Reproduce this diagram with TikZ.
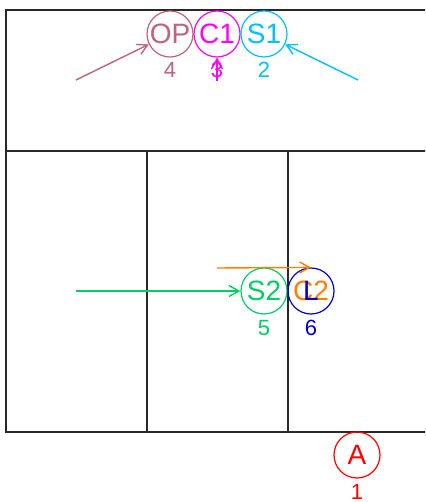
\documentclass[tikz,border=0pt]{standalone}
\usepackage{fontspec}
\setmainfont{Liberation Sans}
\usetikzlibrary{arrows.meta}
\definecolor{cop}{RGB}{190,100,125}
\definecolor{cc1}{RGB}{255,0,255}
\definecolor{cs1}{RGB}{0,191,255}
\definecolor{cs2}{RGB}{0,205,102}
\definecolor{cl}{RGB}{0,0,205}
\definecolor{cc2}{RGB}{255,127,0}
\definecolor{ca}{RGB}{255,0,0}
\definecolor{wall}{RGB}{40,40,40}
\tikzset{
  x=1pt, y=-1pt,
  ball/.style={circle, draw=#1, text=#1, line width=1.2pt, minimum size=46pt, inner sep=0pt, font=\fontsize{28}{28}\selectfont},
  num/.style={text=#1, inner sep=0pt, font=\fontsize{22}{22}\selectfont},
  link/.style={draw=#1, line width=1.4pt, -{Straight Barb[length=10pt,width=11pt,line width=1.4pt]}},
  wallline/.style={draw=wall, line width=1.5pt},
}
\begin{document}
\begin{tikzpicture}
\useasboundingbox (0,0) rectangle (425,502);
\clip (0,0) rectangle (425,502);
\fill[white] (0,0) rectangle (425,502);
% walls
\draw[wallline] (6,10) rectangle (440,432);
\draw[wallline] (6,151) -- (440,151);
\draw[wallline] (147,151) -- (147,432);
\draw[wallline] (288,151) -- (288,432);
% nodes
\node[ball=cop] (op) at (170,34) {OP};
\node[ball=cc1] (c1) at (217,34) {C1};
\node[ball=cs1] (s1) at (264,34) {S1};
\node[num=cop] (n4) at (170,70) {4};
\node[num=cc1] (n3) at (217,70) {3};
\node[num=cs1] (n2) at (264,70) {2};
\node[ball=cs2] (s2) at (264,291) {S2};
\node[num=cs2] (n5) at (264,328) {5};
\node[ball=cl] (l2) at (311,291) {};
\node[text=cc2, inner sep=0pt, font=\fontsize{28}{28}\selectfont] (c2) at (311,291) {C2};
\node[text=cl, inner sep=0pt, font=\fontsize{28}{28}\selectfont] (lt) at (311,291) {L};
\node[num=cl] (n6) at (311,328) {6};
\node[ball=ca] (a) at (357,455) {A};
\node[num=ca] (n1) at (357,492) {1};
% connector start points
\coordinate (pop) at (76,80);
\coordinate (ps1) at (358,80);
\coordinate (pc1) at (217,81);
\coordinate (ps2) at (76,291);
\coordinate (pc2) at (217,268);
% connectors
\draw[link=cop] (pop) -- (op);
\draw[link=cs1] (ps1) -- (s1);
\draw[link=cc1] (pc1) -- (c1);
\draw[link=cs2] (ps2) -- (s2);
\draw[link=cc2] (pc2) -- (l2.north);
\end{tikzpicture}
\end{document}
